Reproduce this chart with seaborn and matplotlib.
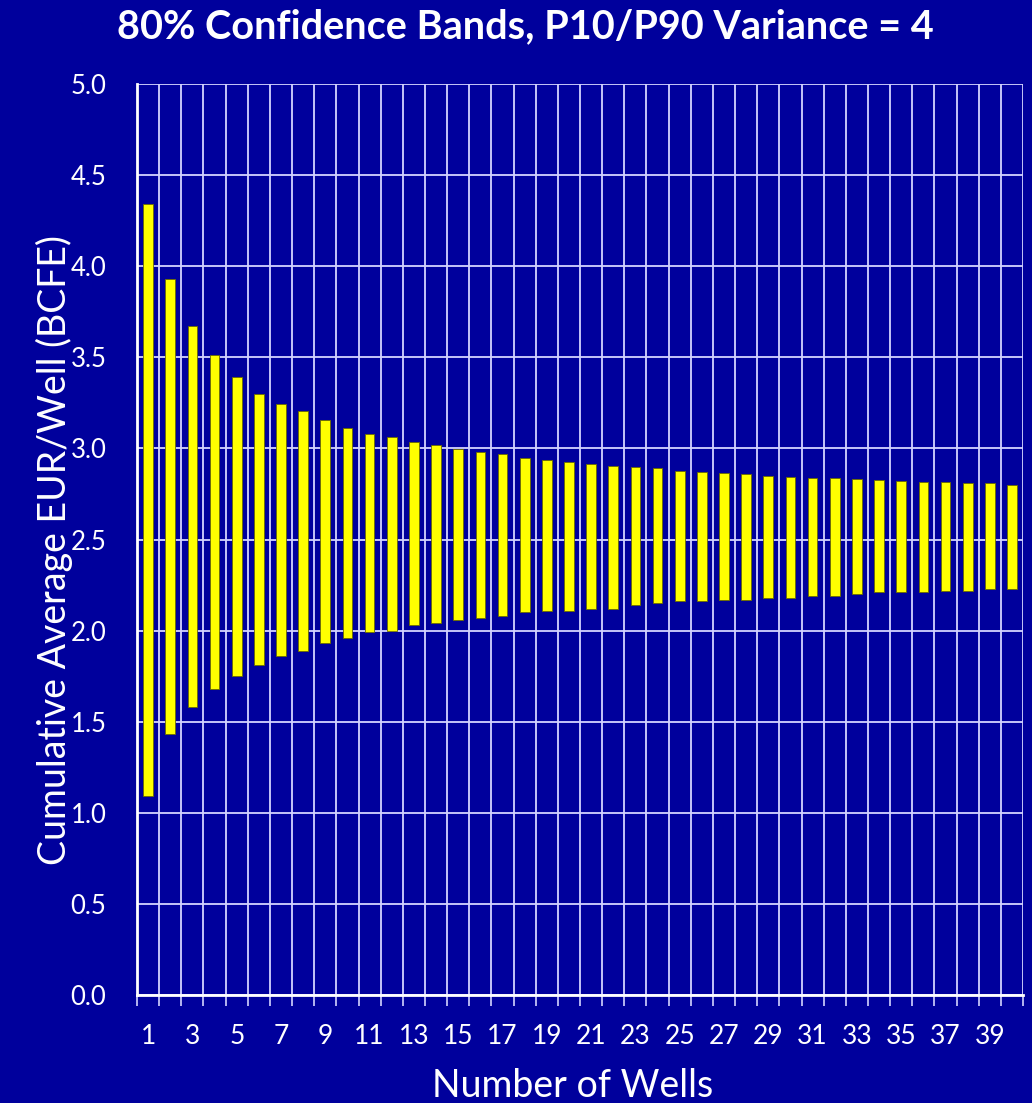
import numpy as np
import pandas as pd
import matplotlib
matplotlib.use("Agg")
import matplotlib.pyplot as plt
import seaborn as sns
from matplotlib.ticker import MultipleLocator, FormatStrFormatter, FixedLocator

# ---- data ----
wells = list(range(1, 41))
p90_low = [1.09, 1.43, 1.58, 1.68, 1.75, 1.81, 1.86, 1.89, 1.93, 1.96,
           1.99, 2.00, 2.03, 2.04, 2.06, 2.07, 2.08, 2.10, 2.11, 2.11,
           2.12, 2.12, 2.14, 2.15, 2.16, 2.16, 2.17, 2.17, 2.18, 2.18,
           2.19, 2.19, 2.20, 2.21, 2.21, 2.21, 2.22, 2.22, 2.23, 2.23]
p10_high = [4.34, 3.93, 3.67, 3.51, 3.39, 3.30, 3.245, 3.205, 3.155, 3.11,
            3.08, 3.065, 3.035, 3.02, 2.995, 2.98, 2.97, 2.95, 2.935, 2.925,
            2.915, 2.905, 2.90, 2.89, 2.875, 2.87, 2.865, 2.857, 2.85, 2.845,
            2.84, 2.84, 2.832, 2.826, 2.821, 2.816, 2.816, 2.808, 2.808, 2.80]
x_tick_labels = [str(w) for w in wells if w % 2 == 1]
title = "80% Confidence Bands, P10/P90 Variance = 4"
x_label = "Number of Wells"
y_label = "Cumulative Average EUR/Well (BCFE)"

df = pd.DataFrame({"wells": wells, "low": p90_low, "high": p10_high})
df["span"] = df["high"] - df["low"]

BG = "#00009C"
GRID = "#D4D4FF"
YEL = "#FFFF00"

sns.set_theme(style="dark")
plt.rcParams["font.family"] = ["Lato", "DejaVu Sans"]

fig = plt.figure(figsize=(10.32, 11.03), dpi=100, facecolor=BG)
ax = fig.add_axes([0.1328, 1 - 995 / 1103, (1023 - 137) / 1032, (995 - 84) / 1103])
ax.set_facecolor(BG)

sns.barplot(data=df, x="wells", y="span", order=wells, color=YEL, saturation=1,
            width=0.44, edgecolor="#6a6a00", linewidth=0.6, ax=ax, zorder=3)
# float the bars: each bar starts at its low value
for patch, lo in zip(ax.patches, df["low"]):
    patch.set_y(lo)

ax.set_xlim(-0.5, len(wells) - 0.5)
ax.set_ylim(0, 5)

# y axis
ax.yaxis.set_major_locator(MultipleLocator(0.5))
ax.yaxis.set_major_formatter(FormatStrFormatter("%.1f"))
ax.tick_params(axis="y", which="major", length=0, pad=22, labelsize=18.5, labelcolor="white")

# x axis: labels at odd wells, tick marks/grid at category boundaries
ax.xaxis.set_major_locator(FixedLocator([i for i in range(0, len(wells), 2)]))
ax.set_xticklabels(x_tick_labels)
ax.xaxis.set_minor_locator(FixedLocator([i - 0.5 for i in range(0, len(wells) + 1)]))
ax.tick_params(axis="x", which="major", length=0, pad=21, labelsize=19, labelcolor="white")
ax.tick_params(axis="x", which="minor", length=8, width=1.2, color=GRID, direction="out", bottom=True)

ax.grid(True, axis="y", which="major", color=GRID, linewidth=1.3, zorder=1)
ax.grid(True, axis="x", which="minor", color=GRID, linewidth=1.3, zorder=1)
ax.grid(False, axis="x", which="major")
ax.set_axisbelow(True)

for side in ["top", "right"]:
    ax.spines[side].set_visible(False)
for side in ["left", "bottom"]:
    ax.spines[side].set_visible(True)
    ax.spines[side].set_color("white")
    ax.spines[side].set_linewidth(2)

ax.set_xlabel(x_label, color="white", fontsize=27)
ax.xaxis.set_label_coords(0.492, -0.080)
ax.set_ylabel(y_label, color="white", fontsize=27)
ax.yaxis.set_label_coords(-0.072, 0.488)

fig.text(0.509, 1 - 27 / 1103, title, color="white", fontsize=28.5, fontweight="bold",
         ha="center", va="center")

fig.savefig("out.png", dpi=100, facecolor=BG)
